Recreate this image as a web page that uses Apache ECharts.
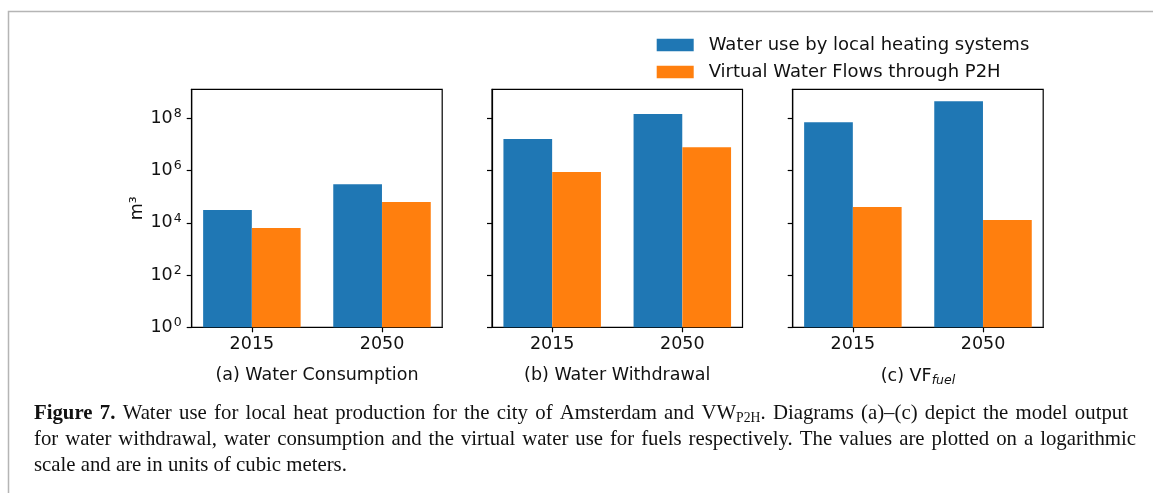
<!DOCTYPE html>
<html>
<head>
<meta charset="utf-8">
<script src="https://cdn.jsdelivr.net/npm/echarts@6/dist/echarts.min.js"></script>
<style>
  html, body { margin: 0; padding: 0; background: #fff; }
  #chart { width: 1153px; height: 493px; }
</style>
</head>
<body>
<div id="chart"></div>
<script>
// data (m3, log scale)
const years = ['2015', '2050']
const panelTitles = ['(a) Water Consumption', '(b) Water Withdrawal', '(c) VF{sub|fuel}']
const seriesNames = ['Water use by local heating systems', 'Virtual Water Flows through P2H']
const localHeating = [
  [3.1e4, 3.0e5], // (a) consumption
  [1.6e7, 1.45e8], // (b) withdrawal
  [7.1e7, 4.5e8] // (c) VF fuel
]
const virtualFlows = [
  [6.3e3, 6.2e4],
  [8.7e5, 7.8e6],
  [4.0e4, 1.27e4]
]
const yTicks = [1, 1e2, 1e4, 1e6, 1e8]

const colors = ['#1f77b4', '#ff7f0e']
const font = 'DejaVu Sans'
const serif = 'Liberation Serif'
const capSize = 22
const capSub = 14.5
const capSquash = 0.945 // journal caption font is a bit narrow
const barW = 0.375 // bar width in category units (matplotlib style)
const panelLeft = [191.7, 492, 792.7]

// caption, justified like the journal page (last line ragged)
const captionLines = [
  { width: 1094, parts: [['b', 'Figure 7.'], ['n', ' Water use for local heat production for the city of Amsterdam and VW'], ['sub', 'P2H'], ['n', '. Diagrams (a)–(c) depict the model output']] },
  { width: 1102, parts: [['n', 'for water withdrawal, water consumption and the virtual water use for fuels respectively. The values are plotted on a logarithmic']] },
  { width: null, parts: [['n', 'scale and are in units of cubic meters.']] }
]

const ctx = document.createElement('canvas').getContext('2d')
function measure (style, txt) {
  const size = style === 'sub' ? capSub : capSize
  ctx.font = (style === 'b' ? 'bold ' : '') + size + 'px "' + serif + '"'
  return ctx.measureText(txt).width
}
function justify (line) {
  let natural = 0
  let spaces = 0
  line.parts.forEach(([s, t]) => {
    natural += measure(s, t)
    spaces += t.split(' ').length - 1
  })
  const target = line.width ? line.width / capSquash : natural
  const spW = measure('n', ' ') + (spaces ? Math.max(0, target - natural) / spaces : 0)
  const out = line.parts.map(([s, t]) => t.split(' ').map(w => w ? '{' + s + '|' + w + '}' : '').join('{sp| }')).join('')
  return { text: out, spW: spW }
}

const chart = echarts.init(document.getElementById('chart'))

const grids = []
const xAxes = []
const yAxes = []
const series = []

panelLeft.forEach((left, i) => {
  grids.push({
    left: left,
    top: 89.3,
    width: 250.5,
    height: 238,
    show: true,
    borderColor: '#000',
    borderWidth: 1.2,
    backgroundColor: 'transparent'
  })
  xAxes.push({
    type: 'value',
    gridIndex: i,
    min: -0.4625,
    max: 1.4625,
    splitLine: { show: false },
    axisLine: { show: true, onZero: false, lineStyle: { color: '#000', width: 1.2 } },
    axisTick: { show: true, customValues: [0, 1], length: 5, lineStyle: { color: '#000', width: 1.2 } },
    axisLabel: {
      customValues: [0, 1],
      formatter: v => years[Math.round(v)],
      color: '#111',
      fontFamily: font,
      fontSize: 17.5,
      margin: 8
    },
    name: panelTitles[i],
    nameLocation: 'middle',
    nameGap: 39,
    nameTextStyle: {
      color: '#111',
      fontFamily: font,
      fontSize: 17.5,
      rich: {
        sub: { fontFamily: font, fontSize: 12.5, fontStyle: 'italic', color: '#111', padding: [8, 0, 0, 0] }
      }
    }
  })
  yAxes.push({
    type: 'log',
    logBase: 10,
    gridIndex: i,
    min: 1,
    max: 1.285e9,
    splitLine: { show: false },
    minorTick: { show: false },
    axisLine: { show: true, onZero: false, lineStyle: { color: '#000', width: 1.2 } },
    axisTick: { show: true, customValues: yTicks, length: 5, lineStyle: { color: '#000', width: 1.2 } },
    axisLabel: {
      show: i === 0,
      customValues: yTicks,
      formatter: v => '10{sup|' + Math.round(Math.log10(v)) + '}',
      color: '#111',
      fontFamily: font,
      fontSize: 17.5,
      margin: 10,
      rich: {
        sup: { fontFamily: font, fontSize: 12.5, color: '#111', padding: [0, 0, 9, 1] }
      }
    },
    name: i === 0 ? 'm³' : '',
    nameLocation: 'middle',
    nameRotate: 90,
    nameGap: 43,
    nameTextStyle: { color: '#111', fontFamily: font, fontSize: 17.5 }
  })
  const groups = [localHeating[i], virtualFlows[i]]
  groups.forEach((vals, s) => {
    series.push({
      name: seriesNames[s],
      type: 'bar',
      xAxisIndex: i,
      yAxisIndex: i,
      barWidth: 48.7,
      barGap: '-100%',
      itemStyle: { color: colors[s] },
      emphasis: { disabled: true },
      data: vals.map((v, k) => [k + (s === 0 ? -barW / 2 : barW / 2), v])
    })
  })
})

// caption text as graphic elements (squashed horizontally)
const captionGraphics = captionLines.map((line, k) => {
  const j = justify(line)
  return {
    type: 'text',
    x: 34,
    y: 413 + k * 26,
    scaleX: capSquash,
    silent: true,
    style: {
      text: j.text,
      fill: '#111',
      fontFamily: serif,
      fontSize: capSize,
      verticalAlign: 'middle',
      rich: {
        n: { fontFamily: serif, fontSize: capSize, fill: '#111' },
        b: { fontFamily: serif, fontSize: capSize, fontWeight: 'bold', fill: '#111' },
        sub: { fontFamily: serif, fontSize: capSub, fill: '#111', padding: [10, 0, 0, 0] },
        sp: { fontFamily: serif, fontSize: capSize, width: j.spW }
      }
    }
  }
})

chart.setOption({
  animation: false,
  textStyle: { fontFamily: font },
  grid: grids,
  xAxis: xAxes,
  yAxis: yAxes,
  series: series,
  legend: {
    orient: 'vertical',
    left: 656.7,
    top: 36,
    padding: 0,
    itemWidth: 37,
    itemHeight: 12.5,
    itemGap: 9,
    icon: 'rect',
    selectedMode: false,
    data: seriesNames,
    textStyle: { color: '#111', fontFamily: font, fontSize: 18, padding: [0, 0, 0, 10] }
  },
  graphic: [{
    type: 'rect',
    shape: { x: 8.5, y: 11.5, width: 1300, height: 700 },
    style: { fill: 'none', stroke: '#b5b5b5', lineWidth: 1.5 },
    silent: true
  }].concat(captionGraphics)
})
</script>
</body>
</html>
